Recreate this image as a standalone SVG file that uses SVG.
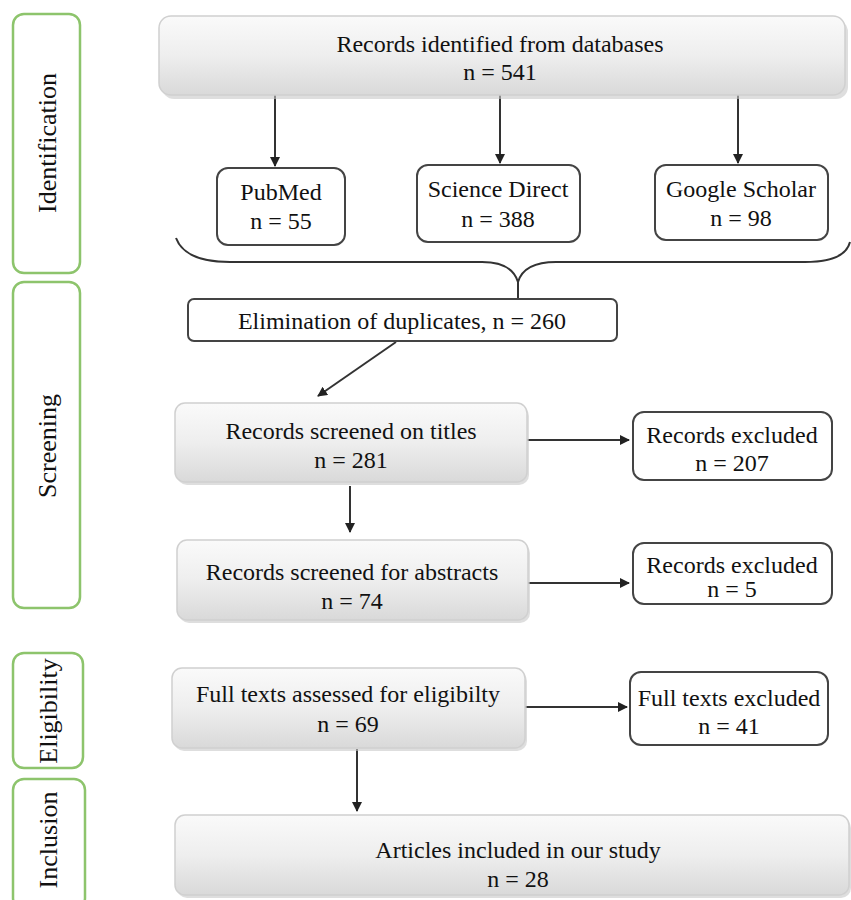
<svg xmlns="http://www.w3.org/2000/svg" width="851" height="900" viewBox="0 0 851 900">
<defs>
<linearGradient id="g" x1="0" y1="0" x2="0" y2="1">
<stop offset="0" stop-color="#fafafa"/>
<stop offset="0.5" stop-color="#eeeeee"/>
<stop offset="1" stop-color="#d9d9d9"/>
</linearGradient>
<marker id="ah" viewBox="0 0 10 10" refX="9" refY="5" markerWidth="5" markerHeight="5" orient="auto" markerUnits="strokeWidth">
<path d="M0,0 L10,5 L0,10 z" fill="#222"/>
</marker>
</defs>
<style>
text{font-family:"Liberation Serif","Times New Roman",serif;font-size:24px;fill:#111;text-anchor:middle}
text.lbl{font-size:26px}
text.sm{font-size:22px}
.side{fill:#fff;stroke:#8dc46c;stroke-width:2.5}
.grey{fill:url(#g);stroke:#d0d0d0;stroke-width:1.5}
.shadow{fill:#c8c8c8;opacity:0.6}
.white{fill:#fff;stroke:#444;stroke-width:2}
.conn{fill:none;stroke:#333;stroke-width:2}
.arr{marker-end:url(#ah)}
</style>
<rect width="851" height="900" fill="#fff"/>

<g id="side-identification"><rect class="side" x="13" y="14" width="67" height="259" rx="11"/><text class="lbl" transform="translate(56,143) rotate(-90)">Identification</text></g>
<g id="side-screening"><rect class="side" x="13" y="282" width="67" height="326" rx="11"/><text class="lbl" transform="translate(56,446) rotate(-90)">Screening</text></g>
<g id="side-eligibility"><rect class="side" x="13" y="653" width="70" height="115" rx="11"/><text class="lbl" transform="translate(57,711) rotate(-90)">Eligibility</text></g>
<g id="side-inclusion"><rect class="side" x="13" y="779" width="72" height="130" rx="11"/><text class="lbl" transform="translate(57,840) rotate(-90)">Inclusion</text></g>

<g id="connectors">
<line class="conn arr" x1="275" y1="95" x2="275" y2="166"/>
<line class="conn arr" x1="500" y1="95" x2="500" y2="163"/>
<line class="conn arr" x1="738" y1="95" x2="738" y2="163"/>
<path class="conn" d="M176,238 Q185,262 230,262 L482,262 Q512,262 518,282 Q524,262 556,262 L805,262 Q845,262 850,242"/>
<line class="conn" x1="518" y1="282" x2="518" y2="299"/>
<line class="conn arr" x1="396" y1="342" x2="318" y2="396"/>
<line class="conn arr" x1="527" y1="440" x2="629" y2="440"/>
<line class="conn arr" x1="350" y1="486" x2="350" y2="532"/>
<line class="conn arr" x1="528" y1="583" x2="629" y2="583"/>
<line class="conn arr" x1="525" y1="707" x2="627" y2="707"/>
<line class="conn arr" x1="357" y1="749" x2="357" y2="811"/>
</g>

<g id="node-databases"><rect class="shadow" x="162" y="20" width="686" height="79" rx="12"/><rect class="grey" x="159" y="16" width="686" height="79" rx="12"/><text x="500" y="52">Records identified from databases</text><text x="500" y="80">n = 541</text></g>
<g id="node-pubmed"><rect class="white" x="217" y="168" width="128" height="77" rx="11"/><text x="281" y="200">PubMed</text><text x="281" y="229">n = 55</text></g>
<g id="node-sciencedirect"><rect class="white" x="417" y="165" width="163" height="77" rx="11"/><text x="498" y="197">Science Direct</text><text x="498" y="227">n = 388</text></g>
<g id="node-googlescholar"><rect class="white" x="655" y="165" width="173" height="75" rx="11"/><text x="741" y="197">Google Scholar</text><text x="741" y="226">n = 98</text></g>
<g id="node-elimination"><rect class="white" x="188" y="299" width="429" height="42" rx="6"/><text x="402" y="329">Elimination of duplicates, n = 260</text></g>
<g id="node-titles"><rect class="shadow" x="177" y="406" width="352" height="79" rx="10"/><rect class="grey" x="175" y="403" width="352" height="79" rx="10"/><text x="351" y="439">Records screened on titles</text><text x="351" y="468">n = 281</text></g>
<g id="node-excluded207"><rect class="white" x="633" y="412" width="199" height="68" rx="11"/><text x="732" y="443">Records excluded</text><text x="732" y="471">n = 207</text></g>
<g id="node-abstracts"><rect class="shadow" x="179" y="543" width="351" height="80" rx="10"/><rect class="grey" x="177" y="540" width="351" height="80" rx="10"/><text x="352" y="580">Records screened for abstracts</text><text x="352" y="609">n = 74</text></g>
<g id="node-excluded5"><rect class="white" x="633" y="543" width="199" height="61" rx="11"/><text x="732" y="573">Records excluded</text><text x="732" y="597">n = 5</text></g>
<g id="node-fulltexts"><rect class="shadow" x="174" y="671" width="353" height="80" rx="10"/><rect class="grey" x="172" y="668" width="353" height="80" rx="10"/><text x="348" y="702">Full texts assessed for eligibilty</text><text x="348" y="732">n = 69</text></g>
<g id="node-fullexcluded"><rect class="white" x="630" y="672" width="198" height="73" rx="11"/><text x="729" y="706">Full texts excluded</text><text x="729" y="734">n = 41</text></g>
<g id="node-included"><rect class="shadow" x="177" y="818" width="674" height="80" rx="10"/><rect class="grey" x="175" y="815" width="674" height="80" rx="10"/><text x="518" y="858">Articles included in our study</text><text x="518" y="887">n = 28</text></g>
</svg>
